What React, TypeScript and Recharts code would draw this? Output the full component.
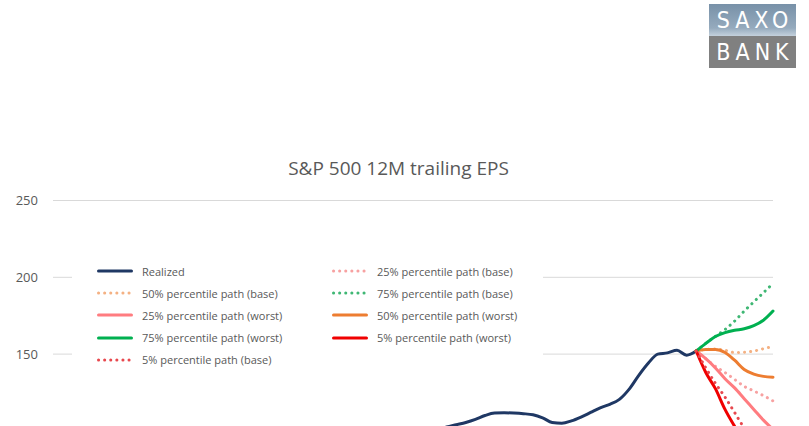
import { LineChart, Line, XAxis, YAxis, CartesianGrid } from 'recharts'

// realized EPS, one point per period (start of the projections at the last point)
const REALIZED = [
  58, 60, 62, 64, 66, 68, 70, 72, 74, 76,
  78, 80, 82, 84, 85, 84, 81, 74, 64, 54,
  46, 42, 44, 49, 55, 62, 68, 73, 77, 81,
  84, 87, 89, 91, 93, 95, 96, 97, 98, 99,
  100.5, 102.5, 104, 105.5, 107.5, 110, 111.6, 111.8, 111.6, 111.2,
  110.5, 108.5, 105.5, 105, 106.5, 109, 112, 115, 117.3, 120.5,
  127, 136, 144, 150, 150.8, 152.5, 149.3, 152,
]

// projected paths, starting at the last realized point
const P25_BASE = [152, 147, 142, 138, 133.5, 129, 126, 123, 119.5]
const P50_BASE = [152, 153, 153.3, 152.5, 151, 151.2, 152, 153.5, 155]
const P75_BASE = [152, 157, 161.5, 166, 171.5, 178, 184, 190, 196]
const P25_WORST = [152, 147, 141, 134, 128, 121, 114, 107, 101]
const P50_WORST = [152, 153, 153, 151, 146, 140, 137, 135.5, 135]
const P75_WORST = [152, 157, 161.5, 164, 165.5, 166.5, 168.5, 172, 178]
const P5_WORST = [152, 138, 127.5, 114, 103, 93, 85, 78, 72]
const P5_BASE = [152, 141, 131, 122, 112, 102, 95, 90, 86]

// only the ticks inside the visible window (the lower ones fall below the crop)
const Y_TICKS = [150, 200, 250]
const N_PERIODS = 76
const PROJ_START = REALIZED.length - 1

const SERIES = [
  { key: 'realized', name: 'Realized', color: '#1f3864', dotted: false, values: REALIZED, offset: 0 },
  { key: 'p25b', name: '25% percentile path (base)', color: '#f7a1a1', dotted: true, values: P25_BASE, offset: PROJ_START },
  { key: 'p50b', name: '50% percentile path (base)', color: '#f4b183', dotted: true, values: P50_BASE, offset: PROJ_START },
  { key: 'p75b', name: '75% percentile path (base)', color: '#3fb774', dotted: true, values: P75_BASE, offset: PROJ_START },
  { key: 'p25w', name: '25% percentile path (worst)', color: '#ff7c80', dotted: false, values: P25_WORST, offset: PROJ_START },
  { key: 'p50w', name: '50% percentile path (worst)', color: '#ed7d31', dotted: false, values: P50_WORST, offset: PROJ_START },
  { key: 'p75w', name: '75% percentile path (worst)', color: '#00b050', dotted: false, values: P75_WORST, offset: PROJ_START },
  { key: 'p5w', name: '5% percentile path (worst)', color: '#f00000', dotted: false, values: P5_WORST, offset: PROJ_START },
  { key: 'p5b', name: '5% percentile path (base)', color: '#e8484e', dotted: true, values: P5_BASE, offset: PROJ_START },
]

const data = Array.from({ length: N_PERIODS }, (_, i) => {
  const row: Record<string, number | undefined> = { idx: i }
  SERIES.forEach(s => {
    const v = s.values[i - s.offset]
    row[s.key] = v === undefined ? undefined : v
  })
  return row
})

const FONT = '"Open Sans", sans-serif'
const TEXT = '#595959'

function LegendBox() {
  return (
    <div style={{ position: 'absolute', left: 72, top: 258, width: 471, height: 116, background: '#fff' }}>
      {SERIES.map((s, i) => {
        const row = Math.floor(i / 2)
        const col = i % 2
        return (
          <div key={s.key} style={{
            position: 'absolute', top: 2 + row * 22.2, left: col ? 260 : 25, height: 22,
            display: 'flex', alignItems: 'center', whiteSpace: 'nowrap',
          }}>
            <svg width={36} height={6} style={{ marginRight: 9 }}>
              <line x1={1.5} y1={3} x2={34.5} y2={3} stroke={s.color} strokeWidth={3}
                strokeLinecap="round" strokeDasharray={s.dotted ? '0.1 6' : undefined} />
            </svg>
            <span style={{ fontFamily: FONT, fontSize: 11, color: TEXT }}>{s.name}</span>
          </div>
        )
      })}
    </div>
  )
}

function Logo() {
  const letters = { fontFamily: '"Liberation Sans Narrow", "DejaVu Sans Condensed", sans-serif', fontSize: 23, color: '#fff', letterSpacing: 5, lineHeight: '32px', textAlign: 'center' as const, paddingLeft: 5 }
  return (
    <div style={{ position: 'absolute', left: 709, top: 4, width: 87, height: 64 }}>
      <div style={{ height: 32, background: 'linear-gradient(#7891a8, #95aabd 75%, #c4d1dc)', ...letters }}>SAXO</div>
      <div style={{ height: 32, background: '#808080', ...letters }}>BANK</div>
    </div>
  )
}

export default function App() {
  return (
    <div style={{ position: 'absolute', left: 0, top: 0, width: 809, height: 426, overflow: 'hidden', background: '#fff' }}>
      <LineChart width={809} height={640} data={data} margin={{ top: 200.5, right: 36, bottom: 55.5, left: 0 }}>
        <CartesianGrid vertical={false} stroke="#d9d9d9" strokeWidth={1} />
        <XAxis dataKey="idx" hide height={0} />
        <YAxis
          width={53}
          domain={[0, 250]}
          ticks={Y_TICKS}
          axisLine={false}
          tickLine={false}
          tickSize={0}
          tickMargin={15}
          tick={{ fontSize: 13, fill: TEXT, fontFamily: FONT }}
        />
        {SERIES.map(s => (
          <Line
            key={s.key}
            dataKey={s.key}
            name={s.name}
            type="monotone"
            stroke={s.color}
            strokeWidth={3}
            strokeLinecap="round"
            strokeLinejoin="round"
            strokeDasharray={s.dotted ? '0.1 6' : undefined}
            dot={false}
            activeDot={false}
            isAnimationActive={false}
          />
        ))}
      </LineChart>
      <div style={{
        position: 'absolute', left: 0, width: 797, top: 155, textAlign: 'center',
        fontFamily: FONT, fontSize: 19, color: TEXT,
      }}>S&amp;P 500 12M trailing EPS</div>
      <LegendBox />
      <Logo />
    </div>
  )
}
